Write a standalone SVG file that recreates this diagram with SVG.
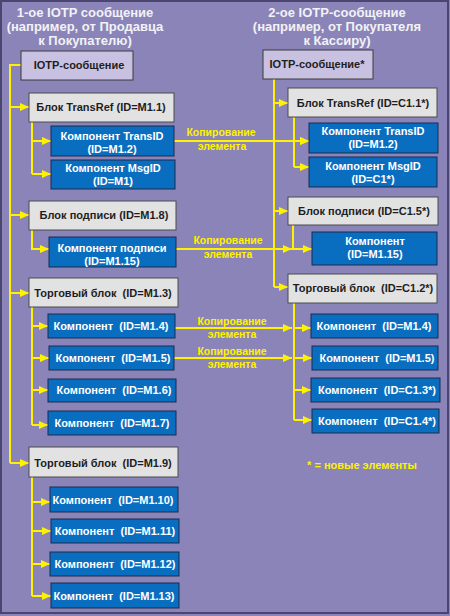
<svg xmlns="http://www.w3.org/2000/svg" width="450" height="616" viewBox="0 0 450 616" xml:space="preserve">
<defs>
<marker id="ah" markerUnits="userSpaceOnUse" markerWidth="9" markerHeight="8" refX="9" refY="4" orient="auto">
<path d="M0,0 L9,4 L0,8 z" fill="#FFF200"/>
</marker>
<style>
text{font-family:"Liberation Sans",Arial,sans-serif;font-weight:bold;text-anchor:middle;white-space:pre}
.title{font-size:13px;fill:#F2F2F6}
.root{fill:#C9C1E2;stroke:#3A3A3A;stroke-width:1}
.blk{fill:#E2E2E2;stroke:#4A4A4A;stroke-width:1}
.cmp{fill:#0A6EC0;stroke:#1B2B4E;stroke-width:1}
.dt{font-size:11px;fill:#1E1E1E}
.wt{font-size:11px;fill:#FFFFFF}
.yl{font-size:10.5px;fill:#FFF200}
.ln{fill:none;stroke:#FFF200;stroke-width:2}
.ar{fill:none;stroke:#FFF200;stroke-width:2;marker-end:url(#ah)}
</style>
</defs>
<rect x="0" y="0" width="450" height="616" fill="#8A84B8"/>
<rect x="1" y="1" width="447" height="612" fill="#8A84B8" stroke="#4B4670" stroke-width="2"/>

<g id="titles">
<text class="title" x="85" y="17">1-ое IOTP сообщение</text>
<text class="title" x="85" y="31">(например, от Продавца</text>
<text class="title" x="85" y="45">к Покупателю)</text>
<text class="title" x="337" y="17">2-ое IOTP-сообщение</text>
<text class="title" x="337" y="31">(например, от Покупателя</text>
<text class="title" x="337" y="45">к Кассиру)</text>
</g>

<g id="connectors">
<path class="ln" d="M21,65 H10 V463"/>
<path class="ar" d="M10,107 H29"/>
<path class="ar" d="M10,215 H29"/>
<path class="ar" d="M10,293 H29"/>
<path class="ar" d="M10,463 H29"/>
<path class="ln" d="M32,122 V174"/>
<path class="ar" d="M32,141 H51"/>
<path class="ar" d="M32,174 H51"/>
<path class="ar" d="M32,230 V249 H49"/>
<path class="ln" d="M32,307 V425"/>
<path class="ar" d="M32,326 H48"/>
<path class="ar" d="M32,358 H49"/>
<path class="ar" d="M32,390 H48"/>
<path class="ar" d="M32,425 H48"/>
<path class="ln" d="M32,477 V596"/>
<path class="ar" d="M32,502 H50"/>
<path class="ar" d="M32,531 H51"/>
<path class="ar" d="M32,564 H50"/>
<path class="ar" d="M32,596 H51"/>

<path class="ln" d="M274,79 V287"/>
<path class="ar" d="M274,103 H288"/>
<path class="ar" d="M274,211 H288"/>
<path class="ar" d="M274,287 H288"/>
<path class="ln" d="M294,117 V167"/>
<path class="ar" d="M294,141 H309"/>
<path class="ar" d="M294,167 H309"/>
<path class="ar" d="M293,225 V249 H312"/>
<path class="ln" d="M294,303 V420"/>
<path class="ar" d="M294,328 H311"/>
<path class="ar" d="M294,358 H312"/>
<path class="ar" d="M294,390 H311"/>
<path class="ar" d="M294,420 H312"/>

<path class="ar" d="M174,141 H309"/>
<path class="ar" d="M176,249 H292"/>
<path class="ar" d="M175,328 H292"/>
<path class="ar" d="M174,358 H292"/>

<text class="yl" x="221" y="136">Копирование</text>
<text class="yl" x="222" y="150">элемента</text>
<text class="yl" x="228" y="244">Копирование</text>
<text class="yl" x="228" y="258">элемента</text>
<text class="yl" x="232" y="325">Копирование</text>
<text class="yl" x="232" y="338">элемента</text>
<text class="yl" x="232" y="355">Копирование</text>
<text class="yl" x="232" y="368">элемента</text>
</g>

<g id="L-root"><rect class="root" x="21" y="51" width="112" height="29"/><text class="dt" x="79" y="69">IOTP-сообщение</text></g>
<g id="L-transref"><rect class="blk" x="29" y="93" width="145" height="29"/><text class="dt" x="101" y="111">Блок TransRef (ID=M1.1)</text></g>
<g id="L-transid"><rect class="cmp" x="51" y="126" width="123" height="30"/><text class="wt" x="112" y="140">Компонент TransID</text><text class="wt" x="112" y="153">(ID=M1.2)</text></g>
<g id="L-msgid"><rect class="cmp" x="51" y="160" width="124" height="29"/><text class="wt" x="113" y="172">Компонент MsgID</text><text class="wt" x="113" y="185">(ID=M1)</text></g>
<g id="L-sigblk"><rect class="blk" x="29" y="201" width="147" height="29"/><text class="dt" x="104" y="219">Блок подписи (ID=M1.8)</text></g>
<g id="L-sig"><rect class="cmp" x="49" y="237" width="127" height="30"/><text class="wt" x="112" y="252">Компонент подписи</text><text class="wt" x="112" y="265">(ID=M1.15)</text></g>
<g id="L-trade1"><rect class="blk" x="29" y="278" width="149" height="29"/><text class="dt" x="103" y="297">Торговый блок  (ID=M1.3)</text></g>
<g id="L-c14"><rect class="cmp" x="48" y="314" width="127" height="24"/><text class="wt" x="111" y="330">Компонент  (ID=M1.4)</text></g>
<g id="L-c15"><rect class="cmp" x="49" y="346" width="125" height="24"/><text class="wt" x="113" y="362">Компонент  (ID=M1.5)</text></g>
<g id="L-c16"><rect class="cmp" x="48" y="379" width="128" height="23"/><text class="wt" x="114" y="394">Компонент  (ID=M1.6)</text></g>
<g id="L-c17"><rect class="cmp" x="48" y="411" width="128" height="24"/><text class="wt" x="112" y="427">Компонент  (ID=M1.7)</text></g>
<g id="L-trade2"><rect class="blk" x="29" y="447" width="149" height="30"/><text class="dt" x="103" y="467">Торговый блок  (ID=M1.9)</text></g>
<g id="L-c110"><rect class="cmp" x="50" y="487" width="128" height="25"/><text class="wt" x="113" y="504">Компонент  (ID=M1.10)</text></g>
<g id="L-c111"><rect class="cmp" x="51" y="519" width="128" height="24"/><text class="wt" x="115" y="535">Компонент  (ID=M1.11)</text></g>
<g id="L-c112"><rect class="cmp" x="50" y="552" width="129" height="24"/><text class="wt" x="115" y="568">Компонент  (ID=M1.12)</text></g>
<g id="L-c113"><rect class="cmp" x="51" y="583" width="128" height="25"/><text class="wt" x="114" y="600">Компонент  (ID=M1.13)</text></g>

<g id="R-root"><rect class="root" x="263" y="50" width="110" height="29"/><text class="dt" x="317" y="68">IOTP-сообщение*</text></g>
<g id="R-transref"><rect class="blk" x="288" y="88" width="149" height="29"/><text class="dt" x="363" y="107">Блок TransRef (ID=C1.1*)</text></g>
<g id="R-transid"><rect class="cmp" x="309" y="123" width="129" height="30"/><text class="wt" x="373" y="135">Компонент TransID</text><text class="wt" x="373" y="148">(ID=M1.2)</text></g>
<g id="R-msgid"><rect class="cmp" x="309" y="157" width="128" height="30"/><text class="wt" x="373" y="170">Компонент MsgID</text><text class="wt" x="373" y="183">(ID=C1*)</text></g>
<g id="R-sigblk"><rect class="blk" x="288" y="197" width="150" height="28"/><text class="dt" x="364" y="215">Блок подписи (ID=C1.5*)</text></g>
<g id="R-sig"><rect class="cmp" x="312" y="232" width="125" height="33"/><text class="wt" x="375" y="245">Компонент</text><text class="wt" x="375" y="258">(ID=M1.15)</text></g>
<g id="R-trade"><rect class="blk" x="288" y="274" width="149" height="29"/><text class="dt" x="363" y="292">Торговый блок  (ID=C1.2*)</text></g>
<g id="R-c14"><rect class="cmp" x="311" y="314" width="127" height="24"/><text class="wt" x="374" y="330">Компонент  (ID=M1.4)</text></g>
<g id="R-c15"><rect class="cmp" x="312" y="346" width="126" height="24"/><text class="wt" x="377" y="362">Компонент  (ID=M1.5)</text></g>
<g id="R-c13s"><rect class="cmp" x="311" y="378" width="129" height="24"/><text class="wt" x="377" y="394">Компонент  (ID=C1.3*)</text></g>
<g id="R-c14s"><rect class="cmp" x="312" y="409" width="127" height="24"/><text class="wt" x="377" y="425">Компонент  (ID=C1.4*)</text></g>

<g id="legend"><text class="yl" x="362" y="469" style="font-size:11px">* = новые элементы</text></g>
</svg>
